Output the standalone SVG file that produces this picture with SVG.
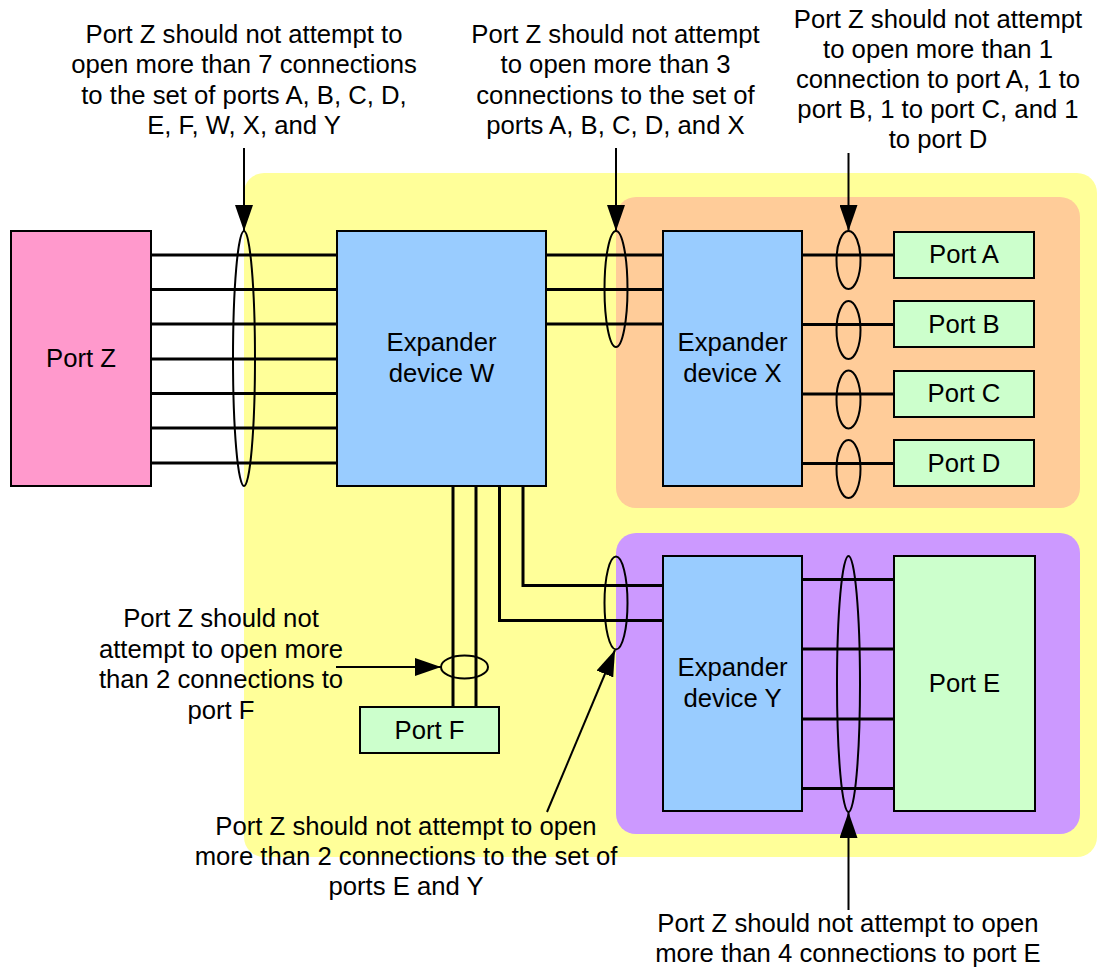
<svg xmlns="http://www.w3.org/2000/svg" width="1097" height="967" viewBox="0 0 1097 967">
<defs>
<style>
.t{font-family:"Liberation Sans",Arial,sans-serif;font-size:25.7px;fill:#000;text-anchor:middle}
.box{stroke:#000;stroke-width:2}
.w{fill:none;stroke:#000;stroke-width:3}
.el{fill:none;stroke:#000;stroke-width:2}
.ar{fill:none;stroke:#000;stroke-width:2}
</style>
<marker id="ah" markerUnits="userSpaceOnUse" markerWidth="26" markerHeight="18" viewBox="0 0 26 18" refX="26" refY="9" orient="auto">
<path d="M0,0 L26,9 L0,18 Z" fill="#000"/>
</marker>
</defs>
<rect width="1097" height="967" fill="#fff"/>
<g id="regions">
<rect x="244" y="173" width="853" height="684" rx="20" fill="#FFFF99"/>
<rect x="616" y="197" width="464" height="311" rx="20" fill="#FFCC99"/>
<rect x="616" y="533" width="464" height="301" rx="20" fill="#CC99FF"/>
</g>
<g id="connectors">
<path class="w" d="M151,255H337M151,289.5H337M151,324H337M151,359H337M151,393.5H337M151,428H337M151,463H337"/>
<path class="w" d="M546,255H663M546,289.5H663M546,324H663"/>
<path class="w" d="M802,255H894M802,324.5H894M802,394H894M802,463.5H894"/>
<path class="w" d="M802,579.5H894M802,649H894M802,719H894M802,788.5H894"/>
<path class="w" d="M453,486V707M476,486V707"/>
<path class="w" d="M523,486V585.5H663M499.5,486V620.5H663"/>
<ellipse class="el" cx="244" cy="358.5" rx="11" ry="127.5"/>
<ellipse class="el" cx="616" cy="289" rx="11.5" ry="58"/>
<ellipse class="el" cx="848.5" cy="260" rx="12" ry="29"/>
<ellipse class="el" cx="848.5" cy="330" rx="12" ry="29"/>
<ellipse class="el" cx="848.5" cy="399.5" rx="12" ry="29"/>
<ellipse class="el" cx="848.5" cy="469" rx="12" ry="29"/>
<ellipse class="el" cx="848.5" cy="684" rx="11.5" ry="128"/>
<ellipse class="el" cx="616" cy="603" rx="11.5" ry="46.5"/>
<ellipse class="el" cx="464.5" cy="667" rx="23.5" ry="11.5"/>
<path class="ar" d="M244,148V231" marker-end="url(#ah)"/>
<path class="ar" d="M616,148V231" marker-end="url(#ah)"/>
<path class="ar" d="M848.5,153V231" marker-end="url(#ah)"/>
<path class="ar" d="M848.5,910V812" marker-end="url(#ah)"/>
<path class="ar" d="M336,667H441" marker-end="url(#ah)"/>
<path class="ar" d="M547,812L615,650" marker-end="url(#ah)"/>
</g>
<g id="portZ">
<rect class="box" x="11" y="231" width="140" height="255" fill="#FF99CC"/>
<text class="t" x="81" y="367">Port Z</text>
</g>
<g id="expW">
<rect class="box" x="337" y="231" width="209" height="255" fill="#99CCFF"/>
<text class="t" x="441.5" y="351">Expander</text>
<text class="t" x="441.5" y="382">device W</text>
</g>
<g id="expX">
<rect class="box" x="663" y="231" width="139" height="255" fill="#99CCFF"/>
<text class="t" x="732.5" y="351">Expander</text>
<text class="t" x="732.5" y="382">device X</text>
</g>
<g id="expY">
<rect class="box" x="663" y="556" width="139" height="255" fill="#99CCFF"/>
<text class="t" x="732.5" y="676">Expander</text>
<text class="t" x="732.5" y="707">device Y</text>
</g>
<g id="portA">
<rect class="box" x="894" y="232" width="140" height="46" fill="#CCFFCC"/>
<text class="t" x="964" y="263">Port A</text>
</g>
<g id="portB">
<rect class="box" x="894" y="301" width="140" height="46" fill="#CCFFCC"/>
<text class="t" x="964" y="333">Port B</text>
</g>
<g id="portC">
<rect class="box" x="894" y="371" width="140" height="46" fill="#CCFFCC"/>
<text class="t" x="964" y="402">Port C</text>
</g>
<g id="portD">
<rect class="box" x="894" y="440" width="140" height="46" fill="#CCFFCC"/>
<text class="t" x="964" y="472">Port D</text>
</g>
<g id="portE">
<rect class="box" x="894" y="556" width="141" height="255" fill="#CCFFCC"/>
<text class="t" x="964.5" y="692">Port E</text>
</g>
<g id="portF">
<rect class="box" x="360" y="707" width="139" height="46" fill="#CCFFCC"/>
<text class="t" x="429.5" y="739">Port F</text>
</g>
<g id="labels">
<text class="t" x="244" y="42.5">Port Z should not attempt to</text>
<text class="t" x="244" y="73">open more than 7 connections</text>
<text class="t" x="244" y="103.5">to the set of ports A, B, C, D,</text>
<text class="t" x="244" y="134">E, F, W, X, and Y</text>
<text class="t" x="615.5" y="42.5">Port Z should not attempt</text>
<text class="t" x="615.5" y="73">to open more than 3</text>
<text class="t" x="615.5" y="103.5">connections to the set of</text>
<text class="t" x="615.5" y="134">ports A, B, C, D, and X</text>
<text class="t" x="938" y="28">Port Z should not attempt</text>
<text class="t" x="938" y="58">to open more than 1</text>
<text class="t" x="938" y="88">connection to port A, 1 to</text>
<text class="t" x="938" y="118">port B, 1 to port C, and 1</text>
<text class="t" x="938" y="148">to port D</text>
<text class="t" x="221" y="627">Port Z should not</text>
<text class="t" x="221" y="657.5">attempt to open more</text>
<text class="t" x="221" y="688">than 2 connections to</text>
<text class="t" x="221" y="718.5">port F</text>
<text class="t" x="406" y="835">Port Z should not attempt to open</text>
<text class="t" x="406" y="865">more than 2 connections to the set of</text>
<text class="t" x="406" y="895">ports E and Y</text>
<text class="t" x="848" y="932">Port Z should not attempt to open</text>
<text class="t" x="848" y="962">more than 4 connections to port E</text>
</g>
</svg>
